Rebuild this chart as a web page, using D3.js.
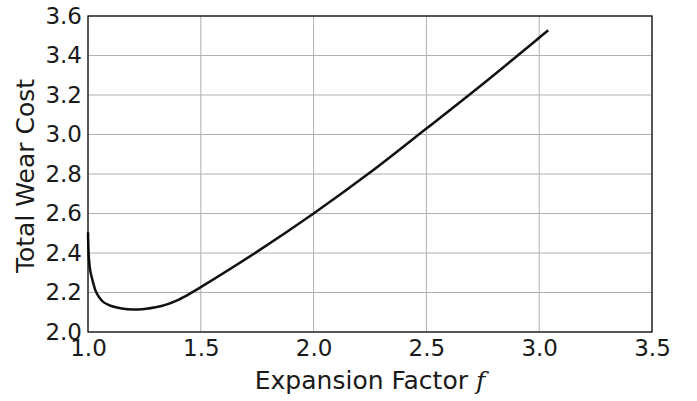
<!DOCTYPE html>
<html>
<head>
<meta charset="utf-8">
<script src="https://cdn.jsdelivr.net/npm/d3@7"></script>
<style>
  body { margin: 0; background: #fff; }
  text { font-family: "DejaVu Sans", sans-serif; fill: #1a1a1a; }
</style>
</head>
<body>
<div class="chart"></div>
<script>
// curve values
var factorValues = [1.000, 1.002, 1.005, 1.010, 1.016, 1.025, 1.035, 1.050, 1.070, 1.10, 1.15, 1.20, 1.25, 1.30, 1.35, 1.40, 1.45, 1.50, 1.75, 2.00, 2.25, 2.50, 2.75, 3.00, 3.04];
var costValues   = [2.505, 2.42, 2.36, 2.31, 2.28, 2.24, 2.205, 2.175, 2.150, 2.133, 2.119, 2.114, 2.117, 2.125, 2.140, 2.163, 2.193, 2.227, 2.407, 2.60, 2.807, 3.03, 3.256, 3.49, 3.528];

var xTicks = [1.0, 1.5, 2.0, 2.5, 3.0, 3.5];
var yTicks = [2.0, 2.2, 2.4, 2.6, 2.8, 3.0, 3.2, 3.4, 3.6];

var svgWidth = 697;
var svgHeight = 401;

var margin = { top: 16, right: 45, bottom: 69, left: 88 };
var width = svgWidth - margin.left - margin.right;
var height = svgHeight - margin.top - margin.bottom;

var svg = d3.select(".chart")
  .append("svg")
  .attr("width", svgWidth)
  .attr("height", svgHeight);

var chartGroup = svg.append("g")
  .attr("transform", `translate(${margin.left}, ${margin.top})`);

var xScale = d3.scaleLinear().domain([1.0, 3.5]).range([0, width]);
var yScale = d3.scaleLinear().domain([2.0, 3.6]).range([height, 0]);

// grid lines
chartGroup.append("g")
  .selectAll("line")
  .data(xTicks)
  .enter()
  .append("line")
  .attr("x1", d => xScale(d)).attr("x2", d => xScale(d))
  .attr("y1", 0).attr("y2", height)
  .attr("stroke", "#b0b0b0")
  .attr("stroke-width", 1);

chartGroup.append("g")
  .selectAll("line")
  .data(yTicks)
  .enter()
  .append("line")
  .attr("x1", 0).attr("x2", width)
  .attr("y1", d => yScale(d)).attr("y2", d => yScale(d))
  .attr("stroke", "#b0b0b0")
  .attr("stroke-width", 1);

// axes (labels only, frame drawn below)
var bottomAxis = d3.axisBottom(xScale).tickValues(xTicks).tickFormat(d3.format(".1f")).tickSize(0).tickPadding(8);
var leftAxis = d3.axisLeft(yScale).tickValues(yTicks).tickFormat(d3.format(".1f")).tickSize(0).tickPadding(6);

var xAxis = chartGroup.append("g")
  .attr("transform", `translate(0, ${height})`)
  .call(bottomAxis);
var yAxis = chartGroup.append("g").call(leftAxis);

[xAxis, yAxis].forEach(function(a) {
  a.select(".domain").remove();
  a.selectAll("text")
    .style("font-family", "'DejaVu Sans', sans-serif")
    .style("font-size", "23px")
    .attr("fill", "#1a1a1a");
});

// the curve
var pts = factorValues.map((f, i) => [f, costValues[i]]);
var line = d3.line()
  .x(d => xScale(d[0]))
  .y(d => yScale(d[1]))
  .curve(d3.curveCatmullRom.alpha(0.5));

chartGroup.append("path")
  .datum(pts)
  .attr("d", line)
  .attr("fill", "none")
  .attr("stroke", "#111")
  .attr("stroke-width", 2.5);

// frame
chartGroup.append("rect")
  .attr("x", 0).attr("y", 0)
  .attr("width", width).attr("height", height)
  .attr("fill", "none")
  .attr("stroke", "#000")
  .attr("stroke-width", 1.2);

// axis titles
var xLabel = svg.append("text")
  .attr("x", margin.left + width / 2)
  .attr("y", 389)
  .attr("text-anchor", "middle")
  .style("font-size", "25px");
xLabel.append("tspan").text("Expansion Factor ");
xLabel.append("tspan")
  .style("font-family", "'DejaVu Serif', serif")
  .style("font-style", "italic")
  .text("f");

svg.append("text")
  .attr("transform", "rotate(-90)")
  .attr("x", -176)
  .attr("y", 34)
  .attr("text-anchor", "middle")
  .style("font-size", "25px")
  .text("Total Wear Cost");
</script>
</body>
</html>
